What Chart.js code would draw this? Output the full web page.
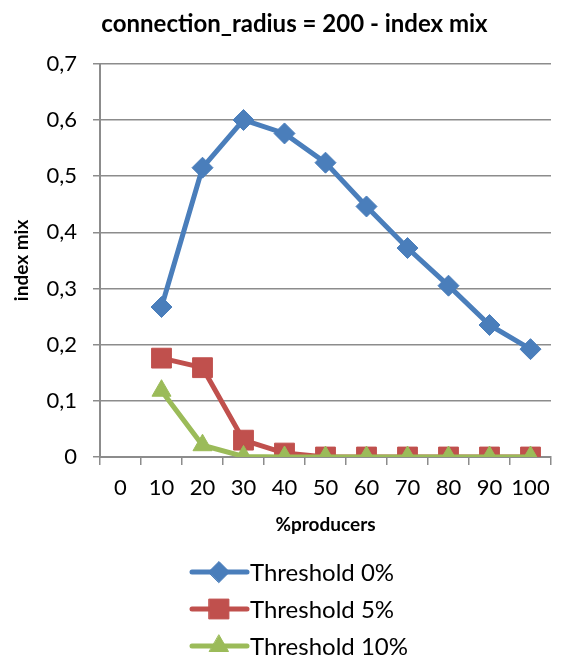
<!DOCTYPE html>
<html>
<head>
<meta charset="utf-8">
<script src="https://cdn.jsdelivr.net/npm/chart.js@4"></script>
<style>
  html, body { margin: 0; padding: 0; background: #fff; }
  #wrap { width: 566px; height: 662px; }
</style>
</head>
<body>
<div id="wrap"><canvas id="chart"></canvas></div>
<script>
const categories = ["0", "10", "20", "30", "40", "50", "60", "70", "80", "90", "100"]
const threshold0 = [null, 0.267, 0.515, 0.600, 0.576, 0.524, 0.446, 0.372, 0.305, 0.235, 0.192]
const threshold5 = [null, 0.176, 0.159, 0.030, 0.007, 0, 0, 0, 0, 0, 0]
const threshold10 = [null, 0.118, 0.021, 0.001, 0, 0, 0, 0, 0, 0, 0]
const seriesNames = ["Threshold 0%", "Threshold 5%", "Threshold 10%"]

const font = "Lato, 'Open Sans', sans-serif"
const gridColor = "#8c8c8c"

// legend drawn one item per row below the x axis title
const stackedLegend = {
    id: "stackedLegend",
    afterDraw(chart) {
        const ctx = chart.ctx
        const x0 = 192
        const rows = [572, 609, 646]
        chart.data.datasets.forEach((ds, i) => {
            const y = rows[i]
            ctx.save()
            ctx.strokeStyle = ds.borderColor
            ctx.lineWidth = 5
            ctx.lineCap = "round"
            ctx.beginPath()
            ctx.moveTo(x0, y)
            ctx.lineTo(x0 + 55, y)
            ctx.stroke()
            ctx.fillStyle = ds.borderColor
            ctx.lineWidth = 1
            Chart.helpers.drawPoint(ctx, {
                pointStyle: ds.pointStyle,
                radius: ds.pointRadius,
                rotation: 0,
                borderWidth: 1
            }, x0 + 27, y)
            ctx.fillStyle = "#000"
            ctx.font = "24px " + font
            ctx.textBaseline = "middle"
            ctx.fillText(ds.label, x0 + 58, y + 1)
            ctx.restore()
        })
    }
}

function makeSet(label, data, color, style, radius, order) {
    return {
        label: label,
        data: data,
        borderColor: color,
        backgroundColor: color,
        pointBackgroundColor: color,
        pointBorderColor: color,
        pointBorderWidth: 1,
        borderWidth: 5,
        pointStyle: style,
        pointRadius: radius,
        pointHoverRadius: radius,
        tension: 0,
        order: order
    }
}

const chart = new Chart(document.querySelector("#chart"), {
    type: "line",
    data: {
        labels: categories,
        datasets: [
            makeSet(seriesNames[0], threshold0, "#4a7ebb", "rectRot", 10.5, 2),
            makeSet(seriesNames[1], threshold5, "#c0504d", "rect", 14, 1),
            makeSet(seriesNames[2], threshold10, "#9bbb59", "triangle", 11, 0)
        ]
    },
    options: {
        responsive: true,
        maintainAspectRatio: false,
        animation: false,
        // negative right padding offsets the space chart.js keeps for the last x label
        layout: { padding: { left: 16, right: -7, top: 0, bottom: 105 } },
        plugins: {
            legend: { display: false },
            tooltip: { enabled: false },
            title: {
                display: true,
                text: "connection_radius = 200 - index mix",
                color: "#000",
                font: { family: font, size: 24, weight: "bold" },
                padding: { top: 10, bottom: 25 }
            }
        },
        scales: {
            x: {
                offset: true,
                afterFit: (scale) => { scale.height = 100 },
                grid: {
                    offset: true,
                    drawOnChartArea: false,
                    drawTicks: true,
                    tickLength: 8,
                    color: gridColor,
                    lineWidth: 1.5
                },
                border: { color: gridColor, width: 2 },
                ticks: {
                    color: "#000",
                    font: { family: font, size: 22 },
                    maxRotation: 0,
                    autoSkip: false,
                    padding: 10
                },
                title: {
                    display: true,
                    text: "%producers",
                    color: "#000",
                    font: { family: font, size: 19, weight: "bold" },
                    padding: { top: 0, bottom: 21 }
                }
            },
            y: {
                min: 0,
                max: 0.7,
                afterFit: (scale) => { scale.width = 84 },
                ticks: {
                    stepSize: 0.1,
                    color: "#000",
                    font: { family: font, size: 22 },
                    padding: 16,
                    callback: (v) => v === 0 ? "0" : v.toFixed(1).replace(".", ",")
                },
                grid: {
                    color: gridColor,
                    lineWidth: 1.5,
                    tickLength: 7
                },
                border: { color: gridColor, width: 2 },
                title: {
                    display: true,
                    text: "index mix",
                    color: "#000",
                    font: { family: font, size: 19, weight: "bold" },
                    padding: { top: -6, bottom: 0 }
                }
            }
        }
    },
    plugins: [stackedLegend]
})
</script>
</body>
</html>
